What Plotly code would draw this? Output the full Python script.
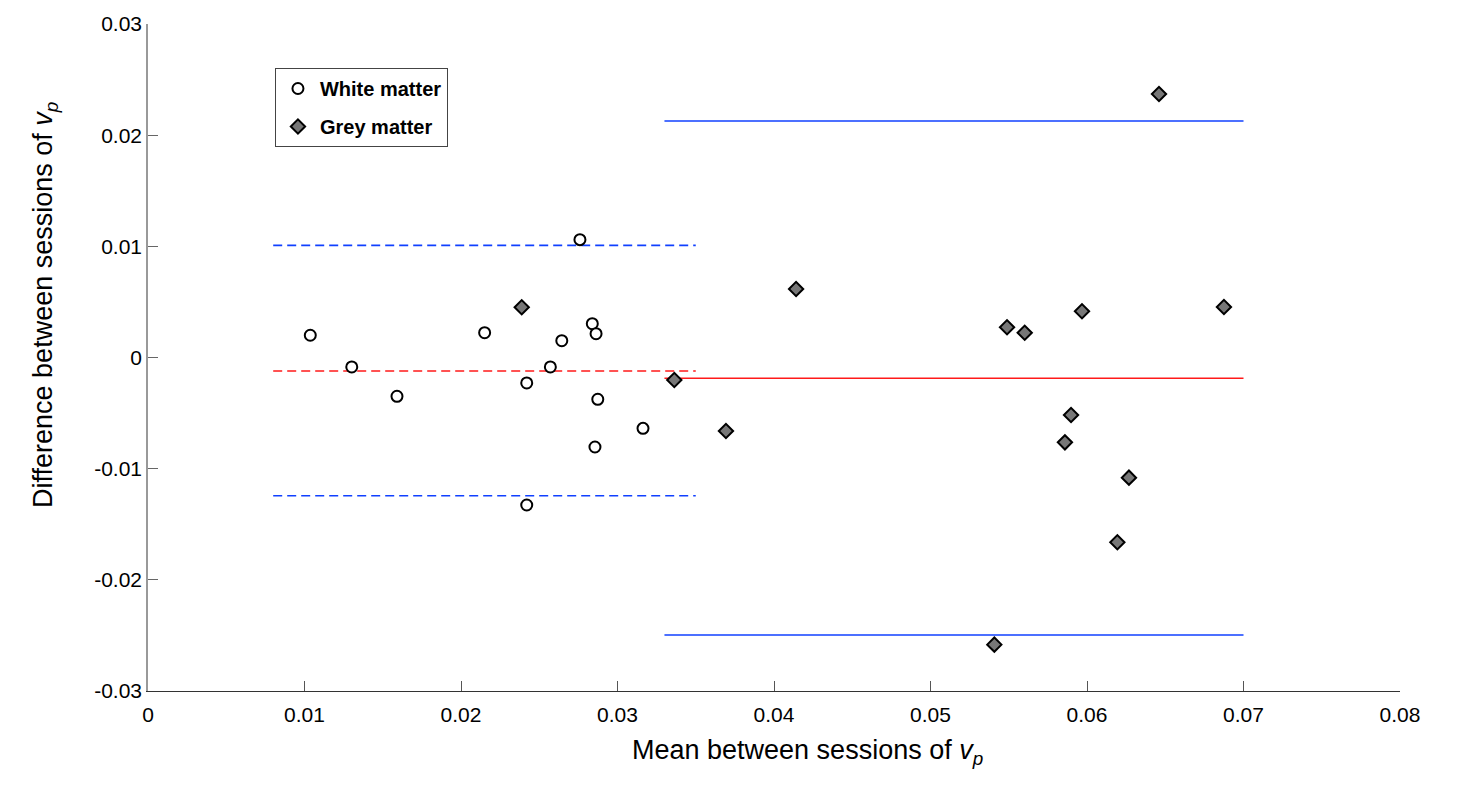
import plotly.graph_objects as go

# White matter (mean, difference)
wm_mean = [0.01037, 0.01302, 0.01591, 0.02151, 0.0242, 0.0242, 0.02571, 0.02644,
           0.0276, 0.02839, 0.02863, 0.02874, 0.02856, 0.03163]
wm_diff = [0.0020, -0.00085, -0.00349, 0.00223, -0.00229, -0.01327, -0.00085, 0.00151,
           0.0106, 0.00304, 0.00214, -0.00376, -0.00805, -0.00637]

# Grey matter (mean, difference)
gm_mean = [0.02388, 0.03363, 0.03693, 0.04141, 0.05408, 0.05489, 0.05602, 0.05859,
           0.05898, 0.05968, 0.06194, 0.06268, 0.0646, 0.06875]
gm_diff = [0.00452, -0.00202, -0.00661, 0.00616, -0.02583, 0.00272, 0.00223, -0.00763,
           -0.00517, 0.00416, -0.01662, -0.01081, 0.0237, 0.00454]

# Bland-Altman lines
wm_range = [0.008, 0.035]
wm_bias = -0.00121
wm_loa = [0.01009, -0.01243]
gm_range = [0.033, 0.07]
gm_bias = -0.00187
gm_loa = [0.02127, -0.02496]

x_ticks = [0, 0.01, 0.02, 0.03, 0.04, 0.05, 0.06, 0.07, 0.08]
x_tick_text = ["0", "0.01", "0.02", "0.03", "0.04", "0.05", "0.06", "0.07", "0.08"]
y_ticks = [-0.03, -0.02, -0.01, 0, 0.01, 0.02, 0.03]
y_tick_text = ["-0.03", "-0.02", "-0.01", "0", "0.01", "0.02", "0.03"]

x_title = "Mean between sessions of <i>v</i><sub><i>p</i></sub>"
y_title = "Difference between sessions of <i>v</i><sub><i>p</i></sub>"

BLUE = "#1040ff"
RED = "#ff1a1a"

fig = go.Figure()

# lines
for v in wm_loa:
    fig.add_trace(go.Scatter(x=wm_range, y=[v, v], mode="lines", showlegend=False,
                             line=dict(color=BLUE, width=1.6, dash="9px,5px"), hoverinfo="skip"))
fig.add_trace(go.Scatter(x=wm_range, y=[wm_bias, wm_bias], mode="lines", showlegend=False,
                         line=dict(color=RED, width=1.6, dash="9px,5px"), hoverinfo="skip"))
for v in gm_loa:
    fig.add_trace(go.Scatter(x=gm_range, y=[v, v], mode="lines", showlegend=False,
                             line=dict(color=BLUE, width=1.6), hoverinfo="skip"))
fig.add_trace(go.Scatter(x=gm_range, y=[gm_bias, gm_bias], mode="lines", showlegend=False,
                         line=dict(color=RED, width=1.6), hoverinfo="skip"))

fig.add_trace(go.Scatter(x=wm_mean, y=wm_diff, mode="markers", name="White matter",
                         legendgroup="wm",
                         marker=dict(symbol="circle", size=11, color="white",
                                     line=dict(color="black", width=2))))
fig.add_trace(go.Scatter(x=gm_mean, y=gm_diff, mode="markers", name="Grey matter",
                         legendgroup="gm",
                         marker=dict(symbol="diamond", size=11, color="#777777",
                                     line=dict(color="black", width=2))))

font_family = "Liberation Sans, Arial, Helvetica, sans-serif"

fig.update_layout(
    width=1481, height=786,
    paper_bgcolor="white", plot_bgcolor="white",
    margin=dict(l=140, r=89, t=16, b=103, autoexpand=False),
    font=dict(family=font_family, color="black", size=19),
    legend=dict(x=0.1014, y=0.934, xanchor="left", yanchor="top",
                bgcolor="white", bordercolor="#444", borderwidth=1,
                font=dict(family=font_family, size=20, color="black", weight="bold"),
                traceorder="grouped", tracegroupgap=9, itemwidth=34,
                entrywidth=150, entrywidthmode="pixels"),
    xaxis=dict(range=[0, 0.08], tickvals=x_ticks, ticktext=x_tick_text,
               showgrid=False, zeroline=False, showline=True, linecolor="#333", linewidth=1,
               ticks="inside", ticklen=10, tickcolor="#555", tickwidth=1,
               tickfont=dict(size=21), ticklabelstandoff=5, automargin=False),
    yaxis=dict(range=[-0.03, 0.03], tickvals=y_ticks, ticktext=y_tick_text,
               showgrid=False, zeroline=False, showline=True, linecolor="#999", linewidth=1.5,
               ticks="inside", ticklen=10, tickcolor="#666", tickwidth=1,
               tickfont=dict(size=21), automargin=False),
    annotations=[
        dict(text=x_title, xref="paper", yref="paper", x=0.5264, y=-0.0915,
             xanchor="center", yanchor="middle", showarrow=False,
             font=dict(family=font_family, size=27, color="black")),
        dict(text=y_title, xref="paper", yref="paper", x=-0.0823, y=0.5787,
             xanchor="center", yanchor="middle", showarrow=False, textangle=-90,
             font=dict(family=font_family, size=27, color="black")),
    ],
)

fig.write_html("out.html")
